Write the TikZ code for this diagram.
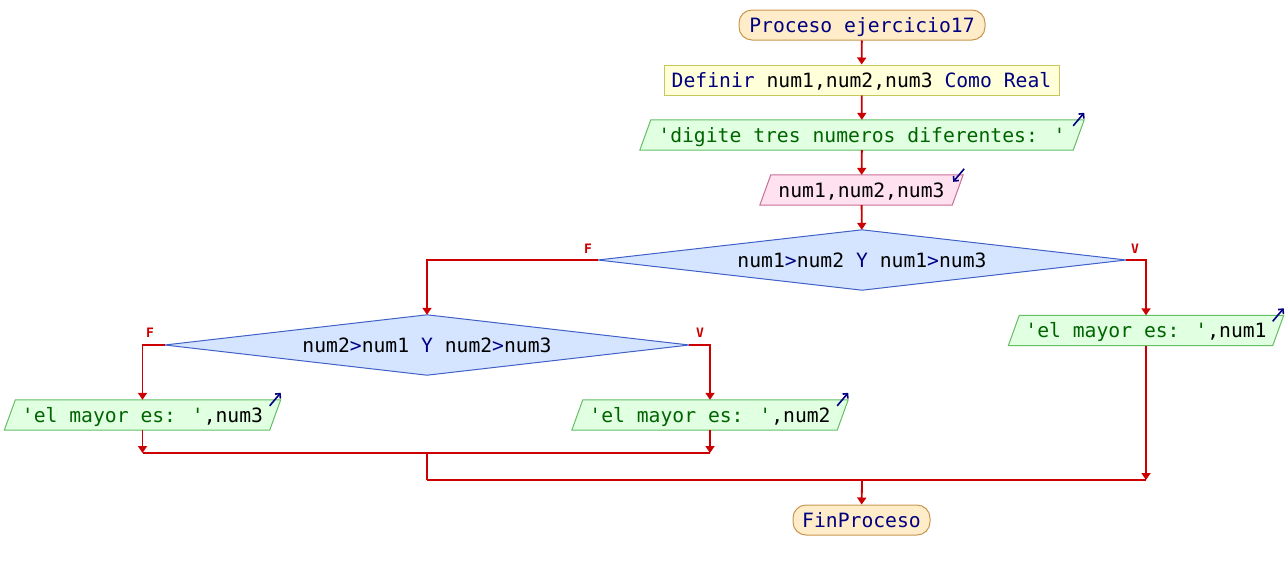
\documentclass[tikz,border=0pt]{standalone}
\usepackage{fontspec}
\newfontfamily\monof{DejaVu Sans Mono}
\usetikzlibrary{arrows.meta,calc}
\pgfdeclarelayer{bg}
\pgfsetlayers{bg,main}
\definecolor{kw}{RGB}{0,0,128}
\definecolor{strc}{RGB}{0,100,0}
\definecolor{flowc}{RGB}{204,0,0}
\definecolor{termfill}{RGB}{255,236,200}
\definecolor{termdraw}{RGB}{200,150,80}
\definecolor{deffill}{RGB}{255,255,218}
\definecolor{defdraw}{RGB}{200,200,90}
\definecolor{outfill}{RGB}{225,255,225}
\definecolor{outdraw}{RGB}{100,190,100}
\definecolor{infill}{RGB}{255,225,240}
\definecolor{indraw}{RGB}{200,110,150}
\definecolor{decfill}{RGB}{213,229,255}
\definecolor{decdraw}{RGB}{64,96,200}
\begin{document}
\begin{tikzpicture}[x=1pt,y=-1pt,
  box/.style={rectangle, inner sep=0pt, minimum height=30pt, text height=15pt, text depth=1pt,
    font=\monof\fontsize{19.7pt}{24pt}\selectfont},
  term/.style={box, draw=termdraw, fill=termfill, rounded corners=13pt, line width=1pt},
  defbox/.style={box, draw=defdraw, fill=deffill, line width=1pt},
  para/.style={box},
  dec/.style={box, minimum height=60pt},
  flow/.style={draw=flowc, line width=1.8pt, -{Triangle[width=9pt,length=7pt]}},
  plain/.style={draw=flowc, line width=1.8pt},
  lbl/.style={text=flowc, inner sep=0pt, font=\monof\bfseries\fontsize{13pt}{15pt}\selectfont},
  icon/.style={draw=kw, line width=1.6pt, -{Straight Barb[length=3.5pt,width=7pt]}},
]
\path[use as bounding box] (0,0) rectangle (1288,570);

\node[term, minimum width=246pt] (ini) at (862,25) {\textcolor{kw}{Proceso ejercicio17}};
\node[defbox, minimum width=395pt] (def) at (861.5,80) {\textcolor{kw}{Definir} num1,num2,num3 \textcolor{kw}{Como Real}};
\node[para, minimum width=444pt] (o0) at (862,135) {\textcolor{strc}{'digite tres numeros diferentes: '}};
\node[para, minimum width=203pt] (i0) at (861.5,190) {num1,num2,num3};
\node[dec, minimum width=528pt] (d1) at (862,260) {num1\textcolor{kw}{>}num2 \textcolor{kw}{Y} num1\textcolor{kw}{>}num3};
\node[dec, minimum width=524pt] (d2) at (427,345) {num2\textcolor{kw}{>}num1 \textcolor{kw}{Y} num2\textcolor{kw}{>}num3};
\node[para, minimum width=275pt] (o1) at (1146,330.5) {\textcolor{strc}{'el mayor es: '},num1};
\node[para, minimum width=276pt] (o3) at (142.5,415) {\textcolor{strc}{'el mayor es: '},num3};
\node[para, minimum width=276pt] (o2) at (710,415) {\textcolor{strc}{'el mayor es: '},num2};
\node[term, minimum width=137pt] (fin) at (861.5,520) {\textcolor{kw}{FinProceso}};

\begin{pgfonlayer}{bg}
  \foreach \n in {o0,o1,o2,o3}{
    \draw[draw=outdraw, fill=outfill, line width=1pt] (\n.south west) -- ([xshift=-11pt]\n.south east)
      -- (\n.north east) -- ([xshift=11pt]\n.north west) -- cycle;
  }
  \draw[draw=indraw, fill=infill, line width=1pt] (i0.south west) -- ([xshift=-11pt]i0.south east)
      -- (i0.north east) -- ([xshift=11pt]i0.north west) -- cycle;
  \foreach \n in {d1,d2}{
    \draw[draw=decdraw, fill=decfill, line width=1pt] (\n.west) -- (\n.north) -- (\n.east) -- (\n.south) -- cycle;
  }
\end{pgfonlayer}

% icons
\foreach \n in {o0,o1,o2,o3}{
  \draw[icon] ($(\n.north east)+(-11,6)$) -- ($(\n.north east)+(0,-7)$);
}
\draw[icon] ($(i0.north east)+(1,-6)$) -- ($(i0.north east)+(-10,7)$);

% labels
\node[lbl] (f1) at (588,249) {F};
\node[lbl] (v1) at (1135,249) {V};
\node[lbl] (f2) at (150,333) {F};
\node[lbl] (v2) at (700,333) {V};

% junctions
\coordinate (j1) at (427,453);
\coordinate (j2) at (862,480);

\draw[flow] (ini) -- (def);
\draw[flow] (def) -- (o0);
\draw[flow] (o0) -- (i0);
\draw[flow] (i0) -- (d1);
\draw[flow] (d1.west) -| (d2.north);
\draw[flow] (d1.east) -| (o1.north);
\draw[flow] (d2.west) -| (o3.north);
\draw[flow] (d2.east) -| (o2.north);
\draw[flow] (o3.south) -- (o3.south |- j1);
\draw[flow] (o2.south) -- (o2.south |- j1);
\draw[plain] (o3.south |- j1) -- (o2.south |- j1);
\draw[plain] (j1) -- (j1 |- j2);
\draw[plain] (j1 |- j2) -- (o1.south |- j2);
\draw[flow] (o1.south) -- (o1.south |- j2);
\draw[flow] (j2) -- (fin);
\end{tikzpicture}
\end{document}
